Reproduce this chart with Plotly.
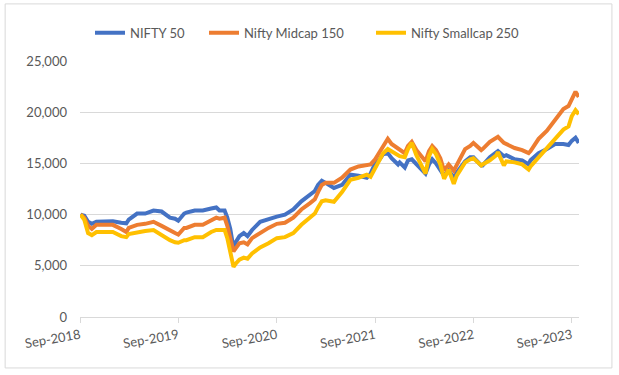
import plotly.graph_objects as go

dates = [
    "2018-09-03", "2018-09-17", "2018-10-01", "2018-10-15", "2018-11-01", "2018-12-01",
    "2019-01-01", "2019-02-01", "2019-02-20", "2019-03-01", "2019-04-01", "2019-05-01",
    "2019-06-01", "2019-07-01", "2019-08-01", "2019-08-20", "2019-09-01", "2019-09-23",
    "2019-10-01", "2019-11-01", "2019-12-01", "2020-01-01", "2020-01-20", "2020-02-01",
    "2020-02-20", "2020-03-01", "2020-03-12", "2020-03-24", "2020-04-01", "2020-04-15",
    "2020-05-01", "2020-05-15", "2020-06-01", "2020-07-01", "2020-08-01", "2020-09-01",
    "2020-10-01", "2020-11-01", "2020-12-01", "2021-01-01", "2021-01-20", "2021-02-01",
    "2021-02-15", "2021-03-01", "2021-04-01", "2021-05-01", "2021-06-01", "2021-07-01",
    "2021-08-01", "2021-08-15", "2021-09-01", "2021-09-15", "2021-10-01", "2021-10-18",
    "2021-11-01", "2021-11-25", "2021-12-01", "2021-12-20", "2022-01-01", "2022-01-15",
    "2022-02-01", "2022-03-07", "2022-03-20", "2022-04-01", "2022-04-15", "2022-05-01",
    "2022-05-15", "2022-06-01", "2022-06-20", "2022-07-01", "2022-08-01", "2022-08-20",
    "2022-09-01", "2022-09-30", "2022-10-05", "2022-11-01", "2022-11-25", "2022-12-01",
    "2022-12-23", "2023-01-01", "2023-02-01", "2023-03-01", "2023-03-25", "2023-04-01",
    "2023-05-01", "2023-06-01", "2023-07-01", "2023-08-01", "2023-08-20", "2023-09-01",
    "2023-09-15", "2023-09-27",
]

nifty50 = [
    10000, 9900, 9300, 9100, 9300, 9300,
    9350, 9200, 9150, 9500, 10100, 10100,
    10400, 10300, 9700, 9600, 9400, 10100,
    10200, 10400, 10400, 10600, 10700, 10400,
    10400, 9700, 8600, 6700, 7300, 7900,
    8200, 7900, 8500, 9300, 9600, 9800,
    10000, 10500, 11300, 11900, 12300, 12900,
    13300, 13100, 12600, 12900, 13900, 13800,
    13600, 14000, 15000, 15300, 15900, 16000,
    15500, 14900, 15100, 14600, 15300, 15400,
    14900, 14000, 14900, 15400, 15000, 14400,
    13800, 14300, 13600, 14100, 15200, 15600,
    15600, 14800, 14800, 15600, 16100, 16200,
    15700, 15800, 15400, 15300, 14900, 15300,
    16000, 16400, 16900, 16900, 16800, 17200,
    17500, 17000,
]

midcap150 = [
    10000, 9700, 8900, 8600, 9000, 9000,
    9000, 8600, 8300, 8700, 9000, 9100,
    9300, 8900, 8400, 8200, 8050, 8700,
    8700, 9000, 9000, 9400, 9700, 9600,
    9700, 8900, 7800, 6400, 6700, 7200,
    7300, 7100, 7700, 8200, 8700, 9100,
    9200, 9700, 10500, 11100, 11500, 12200,
    12900, 13100, 13100, 13600, 14400, 14700,
    14800, 14900, 15400, 16000, 16600, 17400,
    16900, 16400, 16300, 16000, 16700, 17100,
    16300, 15200, 16200, 16700, 16300, 15500,
    14300, 14900, 14300, 14900, 16400, 16700,
    17000, 16300, 16400, 17100, 17500, 17600,
    17000, 16900, 16500, 16300, 16000, 16200,
    17400, 18200, 19300, 20300, 20600, 21300,
    22000, 21500,
]

smallcap250 = [
    10000, 9500, 8200, 8000, 8300, 8300,
    8300, 7900, 7800, 8100, 8300, 8400,
    8500, 8000, 7500, 7300, 7250, 7500,
    7500, 7800, 7800, 8300, 8500, 8500,
    8500, 7700, 6500, 4900, 5200, 5600,
    5800, 5700, 6200, 6800, 7200, 7700,
    7800, 8200, 9000, 9700, 10100, 10700,
    11300, 11400, 11250, 12200, 13400, 13600,
    13900, 13700, 14500, 15300, 16000, 16400,
    16200, 15800, 15700, 15600, 16400, 17000,
    15800, 14000, 15700, 16400, 15900, 14900,
    13500, 14400, 13000, 13800, 15100, 15400,
    15500, 14800, 14900, 15300, 15800, 16100,
    14800, 15200, 15100, 14900, 14400, 14700,
    15600, 16400, 17300, 18300, 18600, 19600,
    20200, 19800,
]

tick_dates = ["2018-09-01", "2019-09-01", "2020-09-01", "2021-09-01", "2022-09-01", "2023-09-01"]
tick_text = ["Sep-2018", "Sep-2019", "Sep-2020", "Sep-2021", "Sep-2022", "Sep-2023"]
y_ticks = [0, 5000, 10000, 15000, 20000, 25000]

series = [
    ("NIFTY 50", nifty50, "#4472C4", "legend"),
    ("Nifty Midcap 150", midcap150, "#ED7D31", "legend2"),
    ("Nifty Smallcap 250", smallcap250, "#FFC000", "legend3"),
]

fig = go.Figure()
for name, vals, color, lg in series:
    fig.add_trace(go.Scatter(x=dates, y=vals, name=name, mode="lines",
                             line=dict(color=color, width=4), legend=lg))

font_color = "#595959"
plot_left, plot_w = 80, 499


def legend_box(px):
    return dict(orientation="h", x=(px - plot_left) / plot_w, xanchor="left",
                y=1.11, yanchor="middle", font=dict(size=13, color=font_color),
                bgcolor="rgba(0,0,0,0)", borderwidth=0)


fig.update_layout(
    width=619, height=375,
    margin=dict(l=80, r=40, t=61, b=58),
    paper_bgcolor="white", plot_bgcolor="white",
    font=dict(family="Lato, 'Open Sans', sans-serif", size=13, color=font_color),
    legend=legend_box(90),
    legend2=legend_box(204),
    legend3=legend_box(371),
    showlegend=True,
)
fig.update_xaxes(
    type="date", range=["2018-09-01", "2023-09-28"],
    tickvals=tick_dates, ticktext=tick_text, tickangle=-10,
    showgrid=False, showline=True, linecolor="#d9d9d9", linewidth=1,
    ticks="outside", ticklen=5, tickcolor="#d9d9d9",
    tickfont=dict(size=13, color=font_color), zeroline=False,
)
fig.update_yaxes(
    range=[0, 25000], tickvals=y_ticks, tickformat=",d",
    showgrid=True, gridcolor="#d9d9d9", gridwidth=1,
    showline=False, zeroline=False, ticks="", ticklen=0,
    ticklabelstandoff=12,
    tickfont=dict(size=13, color=font_color),
)
fig.add_shape(type="rect", xref="paper", yref="paper",
              x0=-0.150, x1=1.066, y0=-0.199, y1=1.223,
              line=dict(color="#d9d9d9", width=1), layer="below")

fig.write_html("out.html")
